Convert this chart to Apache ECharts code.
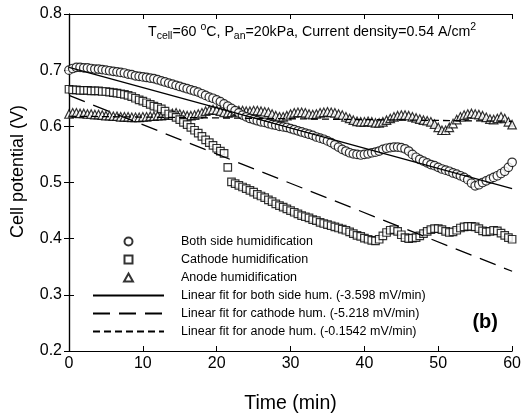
<!DOCTYPE html>
<html>
<head>
<meta charset="utf-8">
<script src="https://cdn.jsdelivr.net/npm/echarts@6/dist/echarts.min.js"></script>
<style>
  html, body { margin: 0; padding: 0; background: #fff; }
  #chart { width: 524px; height: 419px; }
</style>
</head>
<body>
<div id="chart"></div>
<script>
// sampling times (min)
var times = [
  0, 0.5, 1, 1.5, 2, 2.5, 3, 3.5, 4, 4.5,
  5, 5.5, 6, 6.5, 7, 7.5, 8, 8.5, 9, 9.5,
  10, 10.5, 11, 11.5, 12, 12.5, 13, 13.5, 14, 14.5,
  15, 15.5, 16, 16.5, 17, 17.5, 18, 18.5, 19, 19.5,
  20, 20.5, 21, 21.5, 22, 22.5, 23, 23.5, 24, 24.5,
  25, 25.5, 26, 26.5, 27, 27.5, 28, 28.5, 29, 29.5,
  30, 30.5, 31, 31.5, 32, 32.5, 33, 33.5, 34, 34.5,
  35, 35.5, 36, 36.5, 37, 37.5, 38, 38.5, 39, 39.5,
  40, 40.5, 41, 41.5, 42, 42.5, 43, 43.5, 44, 44.5,
  45, 45.5, 46, 46.5, 47, 47.5, 48, 48.5, 49, 49.5,
  50, 50.5, 51, 51.5, 52, 52.5, 53, 53.5, 54, 54.5,
  55, 55.5, 56, 56.5, 57, 57.5, 58, 58.5, 59, 59.5,
  60
];

// cell potential (V), both side humidification
var bothSide = [
  0.700, 0.703, 0.705, 0.705, 0.704, 0.704, 0.703, 0.702, 0.702, 0.701,
  0.700, 0.699, 0.698, 0.697, 0.696, 0.695, 0.693, 0.692, 0.690, 0.689,
  0.688, 0.687, 0.686, 0.685, 0.683, 0.681, 0.679, 0.677, 0.675, 0.673,
  0.671, 0.669, 0.667, 0.665, 0.663, 0.661, 0.658, 0.655, 0.652, 0.650,
  0.647, 0.644, 0.640, 0.636, 0.632, 0.628, 0.624, 0.620, 0.617, 0.614,
  0.612, 0.610, 0.608, 0.607, 0.605, 0.603, 0.602, 0.600, 0.599, 0.598,
  0.596, 0.594, 0.592, 0.590, 0.588, 0.586, 0.584, 0.581, 0.579, 0.577,
  0.574, 0.571, 0.567, 0.563, 0.559, 0.556, 0.553, 0.551, 0.550, 0.549,
  0.550, 0.551, 0.553, 0.554, 0.556, 0.559, 0.561, 0.562, 0.563, 0.563,
  0.562, 0.560, 0.556, 0.550, 0.545, 0.541, 0.538, 0.535, 0.532, 0.530,
  0.527, 0.524, 0.522, 0.520, 0.517, 0.515, 0.512, 0.509, 0.505, 0.499,
  0.494, 0.496, 0.500, 0.503, 0.506, 0.509, 0.512, 0.516, 0.520, 0.527,
  0.536
];

// cathode humidification
var cathode = [
  0.666, 0.665, 0.665, 0.664, 0.664, 0.664, 0.663, 0.663, 0.663, 0.662,
  0.662, 0.661, 0.660, 0.659, 0.658, 0.657, 0.655, 0.653, 0.650, 0.647,
  0.645, 0.642, 0.639, 0.636, 0.634, 0.631, 0.627, 0.622, 0.619, 0.616,
  0.612, 0.607, 0.603, 0.598, 0.593, 0.588, 0.582, 0.576, 0.571, 0.566,
  0.561, 0.556, 0.552, 0.527, 0.501, 0.498, 0.495, 0.492, 0.489, 0.486,
  0.483, 0.479, 0.476, 0.473, 0.469, 0.466, 0.462, 0.459, 0.456, 0.453,
  0.450, 0.447, 0.444, 0.441, 0.439, 0.437, 0.434, 0.432, 0.429, 0.427,
  0.425, 0.423, 0.421, 0.419, 0.417, 0.415, 0.412, 0.409, 0.406, 0.404,
  0.401, 0.399, 0.397, 0.396, 0.399, 0.405, 0.411, 0.415, 0.416, 0.413,
  0.407, 0.402, 0.400, 0.401, 0.402, 0.405, 0.409, 0.413, 0.416, 0.418,
  0.418, 0.416, 0.413, 0.411, 0.412, 0.415, 0.419, 0.421, 0.422, 0.422,
  0.421, 0.418, 0.414, 0.412, 0.413, 0.415, 0.414, 0.410, 0.406, 0.402,
  0.399
];

// anode humidification
var anode = [
  0.622, 0.624, 0.624, 0.623, 0.623, 0.622, 0.622, 0.621, 0.621, 0.620,
  0.619, 0.619, 0.618, 0.618, 0.617, 0.617, 0.617, 0.616, 0.616, 0.616,
  0.617, 0.617, 0.618, 0.618, 0.619, 0.619, 0.620, 0.621, 0.623, 0.624,
  0.622, 0.620, 0.619, 0.619, 0.620, 0.622, 0.624, 0.627, 0.629, 0.630,
  0.629, 0.627, 0.625, 0.624, 0.625, 0.627, 0.628, 0.628, 0.627, 0.627,
  0.628, 0.628, 0.627, 0.626, 0.625, 0.622, 0.619, 0.617, 0.617, 0.619,
  0.622, 0.624, 0.625, 0.625, 0.624, 0.622, 0.621, 0.622, 0.624, 0.625,
  0.626, 0.625, 0.624, 0.622, 0.620, 0.617, 0.614, 0.611, 0.609, 0.608,
  0.608, 0.609, 0.608, 0.606, 0.606, 0.608, 0.611, 0.614, 0.617, 0.619,
  0.620, 0.620, 0.619, 0.617, 0.615, 0.613, 0.611, 0.610, 0.608, 0.604,
  0.598, 0.593, 0.593, 0.598, 0.605, 0.612, 0.617, 0.620, 0.622, 0.623,
  0.622, 0.621, 0.619, 0.616, 0.613, 0.612, 0.614, 0.617, 0.614, 0.608,
  0.603
];

// linear fits, end points [time, potential]
var fitBoth = [[0, 0.705], [60, 0.489]];
var fitCathode = [[0, 0.655], [60, 0.342]];
var fitAnode = [[0, 0.618], [60, 0.609]];

var seriesNames = [
  'Both side humidification',
  'Cathode humidification',
  'Anode humidification',
  'Linear fit for both side hum. (-3.598 mV/min)',
  'Linear fit for cathode hum. (-5.218 mV/min)',
  'Linear fit for anode hum. (-0.1542 mV/min)'
];

function pairUp(vals) {
  var out = [];
  for (var i = 0; i < vals.length; i++) {
    out.push([times[i], vals[i]]);
  }
  return out;
}

var FONT = '"Liberation Sans", Arial, sans-serif';

var hollow = {
  color: '#fff',
  borderColor: '#000',
  borderWidth: 1.2
};

// legend entry for a fit line: hide the dot echarts puts in the middle
var noDot = { opacity: 0 };

var chart = echarts.init(document.getElementById('chart'), null, { renderer: 'canvas' });

var option = {
  animation: false,
  backgroundColor: '#fff',
  textStyle: { fontFamily: FONT, color: '#000' },
  grid: {
    left: 69,
    right: 11,
    top: 14,
    bottom: 67,
    show: false
  },
  xAxis: [{
    type: 'value',
    min: 0,
    max: 60,
    interval: 10,
    name: 'Time (min)',
    nameLocation: 'middle',
    nameGap: 43,
    nameTextStyle: { fontSize: 19.5, color: '#000', fontFamily: FONT },
    axisLine: { lineStyle: { color: '#000', width: 1.2 } },
    axisTick: { inside: true, length: 5, lineStyle: { color: '#000', width: 1 } },
    axisLabel: { fontSize: 16, color: '#000', margin: 5, fontFamily: FONT },
    splitLine: { show: false }
  }, {
    type: 'value',
    position: 'top',
    min: 0,
    max: 60,
    interval: 10,
    axisLine: { lineStyle: { color: '#000', width: 1.2 } },
    axisTick: { inside: true, length: 5, lineStyle: { color: '#000', width: 1 } },
    axisLabel: { show: false },
    splitLine: { show: false }
  }],
  yAxis: [{
    type: 'value',
    min: 0.2,
    max: 0.8,
    interval: 0.1,
    name: 'Cell potential (V)',
    nameLocation: 'middle',
    nameGap: 42,
    nameTextStyle: { fontSize: 18, color: '#000', fontFamily: FONT, padding: [0, 0, 0, 22] },
    axisLine: { show: true, lineStyle: { color: '#000', width: 1.2 } },
    axisTick: { show: true, inside: true, length: 5, lineStyle: { color: '#000', width: 1 } },
    axisLabel: {
      fontSize: 16,
      color: '#000',
      margin: 7,
      fontFamily: FONT,
      formatter: function (v) { return v.toFixed(1); }
    },
    splitLine: { show: false }
  }, {
    type: 'value',
    position: 'right',
    min: 0.2,
    max: 0.8,
    interval: 0.1,
    axisLine: { show: true, lineStyle: { color: '#000', width: 1.2 } },
    axisTick: { show: true, inside: true, length: 5, lineStyle: { color: '#000', width: 1 } },
    axisLabel: { show: false },
    splitLine: { show: false }
  }],
  legend: {
    orient: 'vertical',
    left: 87,
    top: 230,
    itemWidth: 71,
    itemHeight: 8,
    itemGap: 5,
    textStyle: {
      fontSize: 12.5,
      lineHeight: 12,
      color: '#000',
      fontFamily: FONT,
      padding: [0, 0, 0, 12]
    },
    data: [
      { name: seriesNames[0], icon: 'path://M5,0A5,5,0,1,1,5,10A5,5,0,1,1,5,0Z' },
      { name: seriesNames[1], icon: 'path://M0,0L10,0L10,10L0,10Z' },
      { name: seriesNames[2], icon: 'path://M5,0L10,9L0,9Z' },
      { name: seriesNames[3], itemStyle: noDot },
      { name: seriesNames[4], itemStyle: noDot },
      { name: seriesNames[5], itemStyle: noDot }
    ]
  },
  graphic: [{
    type: 'text',
    left: 148,
    top: 22,
    style: {
      text: '{n|T}{s|cell}{n|=60 }{p|o}{n|C, P}{s|an}{n|=20kPa, Current density=0.54 A/cm}{p|2}',
      rich: {
        n: { fontSize: 14.2, lineHeight: 20, fontFamily: FONT, fill: '#000', verticalAlign: 'middle' },
        s: { fontSize: 10.5, lineHeight: 11, fontFamily: FONT, fill: '#000', verticalAlign: 'bottom' },
        p: { fontSize: 10.5, lineHeight: 11, fontFamily: FONT, fill: '#000', verticalAlign: 'top' }
      }
    }
  }, {
    type: 'text',
    right: 26,
    top: 312,
    style: {
      text: '(b)',
      fontSize: 20,
      fontWeight: 'bold',
      fontFamily: FONT,
      fill: '#000'
    }
  }],
  series: [
    {
      name: seriesNames[2],
      type: 'scatter',
      symbol: 'triangle',
      symbolSize: 8.5,
      itemStyle: hollow,
      data: pairUp(anode),
      z: 3
    },
    {
      name: seriesNames[1],
      type: 'scatter',
      symbol: 'rect',
      symbolSize: 7.5,
      itemStyle: hollow,
      data: pairUp(cathode),
      z: 4
    },
    {
      name: seriesNames[0],
      type: 'scatter',
      symbol: 'circle',
      symbolSize: 8.5,
      itemStyle: hollow,
      data: pairUp(bothSide),
      z: 5
    },
    {
      name: seriesNames[3],
      type: 'line',
      symbol: 'none',
      lineStyle: { color: '#000', width: 1.3, type: 'solid' },
      itemStyle: { color: '#000' },
      data: fitBoth,
      z: 6
    },
    {
      name: seriesNames[4],
      type: 'line',
      symbol: 'none',
      lineStyle: { color: '#000', width: 1.3, type: [17, 9] },
      itemStyle: { color: '#000' },
      data: fitCathode,
      z: 6
    },
    {
      name: seriesNames[5],
      type: 'line',
      symbol: 'none',
      lineStyle: { color: '#000', width: 1.3, type: [7, 4] },
      itemStyle: { color: '#000' },
      data: fitAnode,
      z: 6
    }
  ]
};

chart.setOption(option);
</script>
</body>
</html>
